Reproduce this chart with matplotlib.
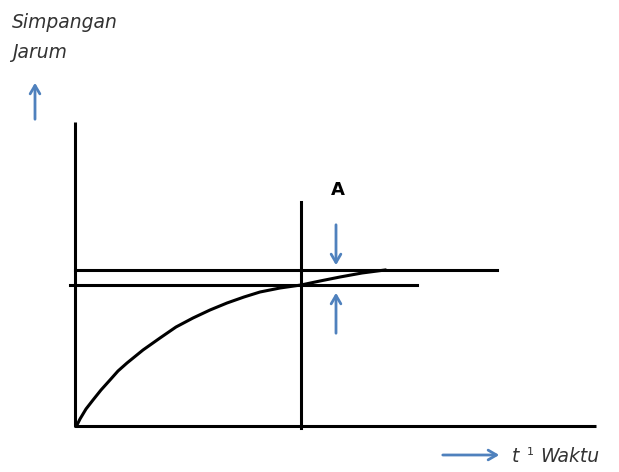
import matplotlib.pyplot as plt

# diagram, in pixel coordinates (y down)
curve_x = [77, 80, 86, 93, 101, 110, 118, 127, 143, 160, 176, 193, 210, 227,
           244, 260, 280, 301, 320, 340, 362, 385]
curve_y = [425, 419, 409, 400, 390, 380, 371, 363, 350, 338, 327, 318, 310, 303,
           297, 292, 288, 285, 281, 277, 273, 270]

axis_x = [75, 75, 596]
axis_y = [122, 426, 426]

vline_x = [301, 301]
vline_y = [202, 428]
upper_x = [75, 497]
upper_y = [270, 270]
lower_x = [70, 417]
lower_y = [285, 285]

fig = plt.figure(figsize=(6.19, 4.72), dpi=100)
ax = fig.add_axes([0, 0, 1, 1])
ax.set_xlim(0, 619)
ax.set_ylim(472, 0)
ax.axis('off')

ax.plot(axis_x, axis_y, color='black', lw=2.2, solid_capstyle='butt')
ax.plot(vline_x, vline_y, color='black', lw=2.2)
ax.plot(upper_x, upper_y, color='black', lw=2.2)
ax.plot(lower_x, lower_y, color='black', lw=2.2)
ax.plot(curve_x, curve_y, color='black', lw=2.2, solid_joinstyle='round')

blue = '#4f81bd'
arrow = dict(arrowstyle='->,head_length=0.6,head_width=0.35', color=blue, lw=2)
ax.annotate('', xy=(336, 268), xytext=(336, 222), arrowprops=arrow)
ax.annotate('', xy=(336, 290), xytext=(336, 336), arrowprops=arrow)
ax.annotate('', xy=(35, 80), xytext=(35, 122), arrowprops=arrow)
ax.annotate('', xy=(502, 455), xytext=(440, 455), arrowprops=arrow)

ax.text(338, 190, 'A', fontsize=13, fontweight='bold', ha='center', va='center')
ax.text(12, 22, 'Simpangan', fontsize=13.5, style='italic', color='#333333', va='center')
ax.text(12, 53, 'Jarum', fontsize=13.5, style='italic', color='#333333', va='center')
ax.text(512, 456, 't', fontsize=13.5, style='italic', color='#333333', va='center')
ax.text(527, 452, '1', fontsize=8, color='#333333', va='center')
ax.text(540, 456, 'Waktu', fontsize=13.5, style='italic', color='#333333', va='center')

fig.savefig('out.png', dpi=100)
